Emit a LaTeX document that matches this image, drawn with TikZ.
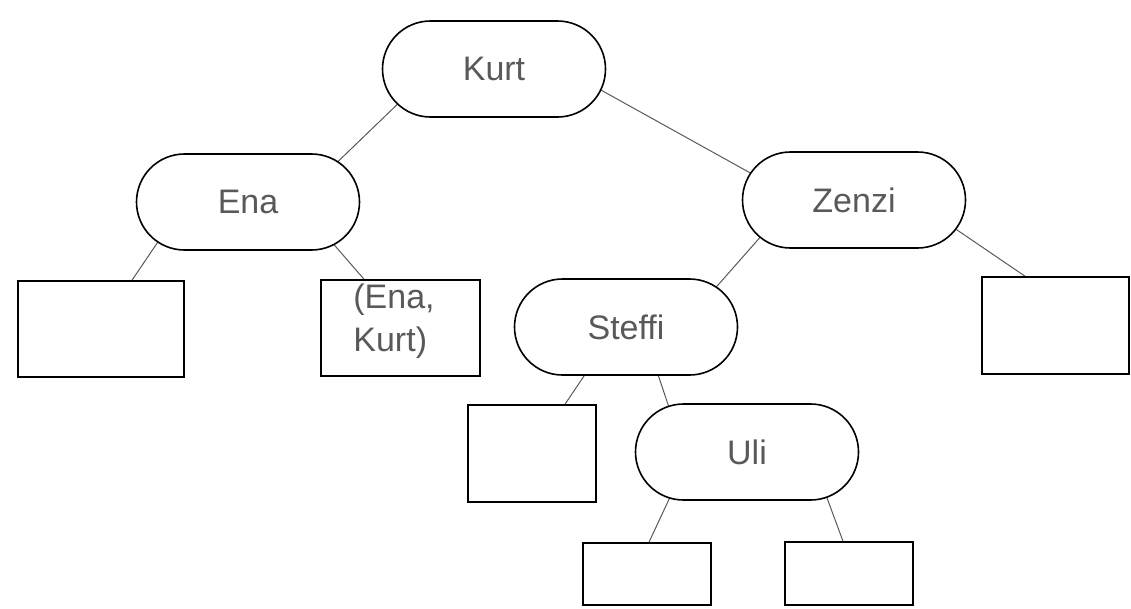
\documentclass[tikz,border=0pt]{standalone}
\usepackage{fontspec}
\setmainfont{Liberation Sans}
\usetikzlibrary{shapes.misc,backgrounds}
\definecolor{txt}{gray}{0.35}
\tikzset{
  pill/.style={rounded rectangle, draw, line width=1.6pt, fill=white,
    minimum width=223pt, minimum height=96pt, inner sep=0pt,
    font=\fontsize{34}{40}\selectfont, text=txt},
  leaf/.style={rectangle, draw, line width=1.6pt, fill=white, inner sep=0pt},
  leaftext/.style={inner sep=0pt, align=left, text=txt,
    font=\fontsize{34}{43}\selectfont},
  edge/.style={draw=black!65, line width=1pt}
}
\begin{document}
\begin{tikzpicture}[x=1pt,y=-1pt]
\useasboundingbox (0,0) rectangle (1131,608);
\node[pill] (kurt) at (494,69) {Kurt};
\node[pill] (ena) at (248,202) {Ena};
\node[pill] (zenzi) at (854,200) {Zenzi};
\node[pill] (steffi) at (626,327) {Steffi};
\node[pill] (uli) at (747,452) {Uli};
\node[leaf, minimum width=166pt, minimum height=96pt] (b1) at (101,329) {};
\node[leaf, minimum width=159pt, minimum height=96pt] (b2) at (400.5,328) {};
\node[leaftext, anchor=north west] (b2t) at ([xshift=33pt,yshift=-4pt]b2.north west) {(Ena,\\Kurt)};
\node[leaf, minimum width=147pt, minimum height=97pt] (b3) at (1055.5,325.5) {};
\node[leaf, minimum width=128pt, minimum height=97pt] (b4) at (532,453.5) {};
\node[leaf, minimum width=128pt, minimum height=62pt] (b5) at (647,574) {};
\node[leaf, minimum width=128pt, minimum height=63pt] (b6) at (849,573.5) {};
\begin{scope}[on background layer]
\draw[edge] ([xshift=-60pt]kurt.center) -- ([xshift=48pt]ena.center);
\draw[edge] ([xshift=69pt]kurt.center) -- ([xshift=-55pt]zenzi.center);
\draw[edge] ([xshift=-63pt]ena.center) -- ([xshift=31pt]b1.north);
\draw[edge] ([xshift=49pt]ena.center) -- ([xshift=-36.5pt]b2.north);
\draw[edge] ([xshift=-61pt]zenzi.center) -- ([xshift=55pt]steffi.center);
\draw[edge] ([xshift=59pt]zenzi.center) -- ([xshift=-30.5pt]b3.north);
\draw[edge] ([xshift=-9pt]steffi.center) -- ([xshift=33pt]b4.north);
\draw[edge] ([xshift=16pt]steffi.center) -- ([xshift=-63pt]uli.center);
\draw[edge] ([xshift=-56pt]uli.center) -- ([xshift=2pt]b5.north);
\draw[edge] ([xshift=63pt]uli.center) -- ([xshift=-6pt]b6.north);
\end{scope}
\end{tikzpicture}
\end{document}
